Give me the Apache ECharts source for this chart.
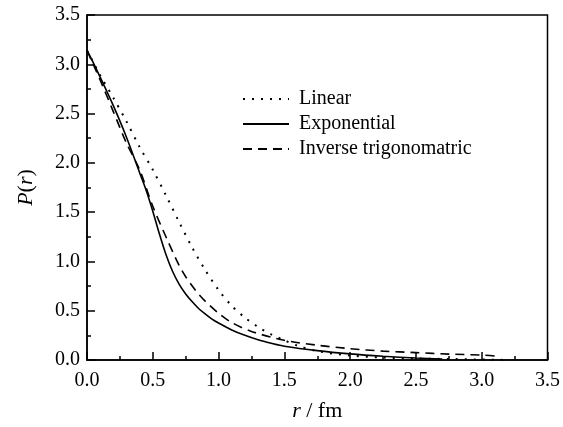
<!DOCTYPE html>
<html>
<head>
<meta charset="utf-8">
<script src="https://cdn.jsdelivr.net/npm/echarts@6/dist/echarts.min.js"></script>
<style>
html,body{margin:0;padding:0;background:#fff;}
#chart{width:563px;height:427px;}
</style>
</head>
<body>
<div id="chart"></div>
<script>
// Series names
var seriesNames = ['Linear', 'Exponential', 'Inverse trigonomatric'];

// Linear (dotted)
var linearR = [0,0.1,0.2,0.3,0.4,0.5,0.6,0.7,0.8,0.9,1.0,1.1,1.2,1.3,1.4,1.5,1.6,1.75,2.0,2.25,2.5,2.75,3.0,3.2];
var linearP = [3.14,2.89,2.66,2.42,2.16,1.93,1.67,1.40,1.14,0.91,0.71,0.55,0.43,0.335,0.26,0.20,0.145,0.09,0.045,0.025,0.015,0.01,0.005,0];

// Exponential (solid)
var expR = [0,0.05,0.1,0.2,0.3,0.4,0.45,0.5,0.55,0.6,0.65,0.7,0.75,0.8,0.85,0.9,0.95,1.0,1.1,1.2,1.3,1.4,1.5,1.75,2.0,2.25,2.5,2.7];
var expP = [3.14,3.01,2.87,2.58,2.26,1.90,1.72,1.51,1.28,1.07,0.90,0.77,0.67,0.59,0.52,0.465,0.415,0.375,0.305,0.25,0.205,0.17,0.14,0.095,0.062,0.038,0.02,0.01];

// Inverse trigonometric (dashed)
var invR = [0,0.1,0.2,0.3,0.4,0.5,0.6,0.7,0.75,0.8,0.85,0.9,1.0,1.1,1.25,1.5,1.75,2.0,2.25,2.5,2.75,3.0,3.1];
var invP = [3.14,2.84,2.52,2.20,1.93,1.56,1.25,0.96,0.845,0.75,0.665,0.595,0.475,0.38,0.29,0.20,0.15,0.115,0.09,0.075,0.06,0.05,0.04];

// Axis ticks
var axisMin = 0, axisMax = 3.5, axisStep = 0.5;

function pairs(xs, ys){ return xs.map(function(x,i){ return [x, ys[i]]; }); }

var font = 'Liberation Serif';
var chart = echarts.init(document.getElementById('chart'), null, {renderer:'canvas'});
var axisCommon = {
  type: 'value', min: axisMin, max: axisMax, interval: axisStep,
  axisLine: {show:true, lineStyle:{color:'#000', width:1.5}},
  axisTick: {show:true, inside:true, length:8, lineStyle:{color:'#000', width:1.5}},
  minorTick: {show:true, splitNumber:2, length:4, lineStyle:{color:'#000', width:1.5}},
  splitLine: {show:false},
  axisLabel: {color:'#000', fontFamily:font, fontSize:20, formatter:function(v){return v.toFixed(1);}},
  nameLocation: 'middle'
};
var nameStyle = {color:'#000', fontFamily:font, fontSize:22, rich:{i:{fontStyle:'italic', fontFamily:font, fontSize:22, color:'#000'}}};
chart.setOption({
  animation: false,
  backgroundColor: '#fff',
  grid: {left:87, right:13, top:15, bottom:67, show:true, borderColor:'#000', borderWidth:1.5, backgroundColor:'transparent'},
  legend: {
    orient:'vertical', left:237, top:84, itemWidth:46, itemHeight:14, itemGap:5,
    data: seriesNames,
    itemStyle:{color:'rgba(0,0,0,0)', borderWidth:0, opacity:0},
    textStyle:{color:'#000', fontFamily:font, fontSize:20, padding:[0,0,0,5]}
  },
  xAxis: Object.assign({}, axisCommon, {
    axisLabel: Object.assign({}, axisCommon.axisLabel, {margin:11}),
    name: '{i|r} / fm', nameGap: 40,
    nameTextStyle: nameStyle
  }),
  yAxis: Object.assign({}, axisCommon, {
    axisLabel: Object.assign({}, axisCommon.axisLabel, {margin:7}),
    name: '{i|P}({i|r})', nameGap: 50,
    nameTextStyle: nameStyle
  }),
  series: [
    {name: seriesNames[0], type:'line', smooth:0.3, symbol:'none', data: pairs(linearR, linearP),
     lineStyle:{color:'#000', width:2, type:[2,7]}, itemStyle:{color:'#000'}},
    {name: seriesNames[1], type:'line', smooth:0.3, symbol:'none', data: pairs(expR, expP),
     lineStyle:{color:'#000', width:1.6, type:'solid'}, itemStyle:{color:'#000'}},
    {name: seriesNames[2], type:'line', smooth:0.3, symbol:'none', data: pairs(invR, invP),
     lineStyle:{color:'#000', width:1.6, type:[9,6]}, itemStyle:{color:'#000'}}
  ]
});
</script>
</body>
</html>
